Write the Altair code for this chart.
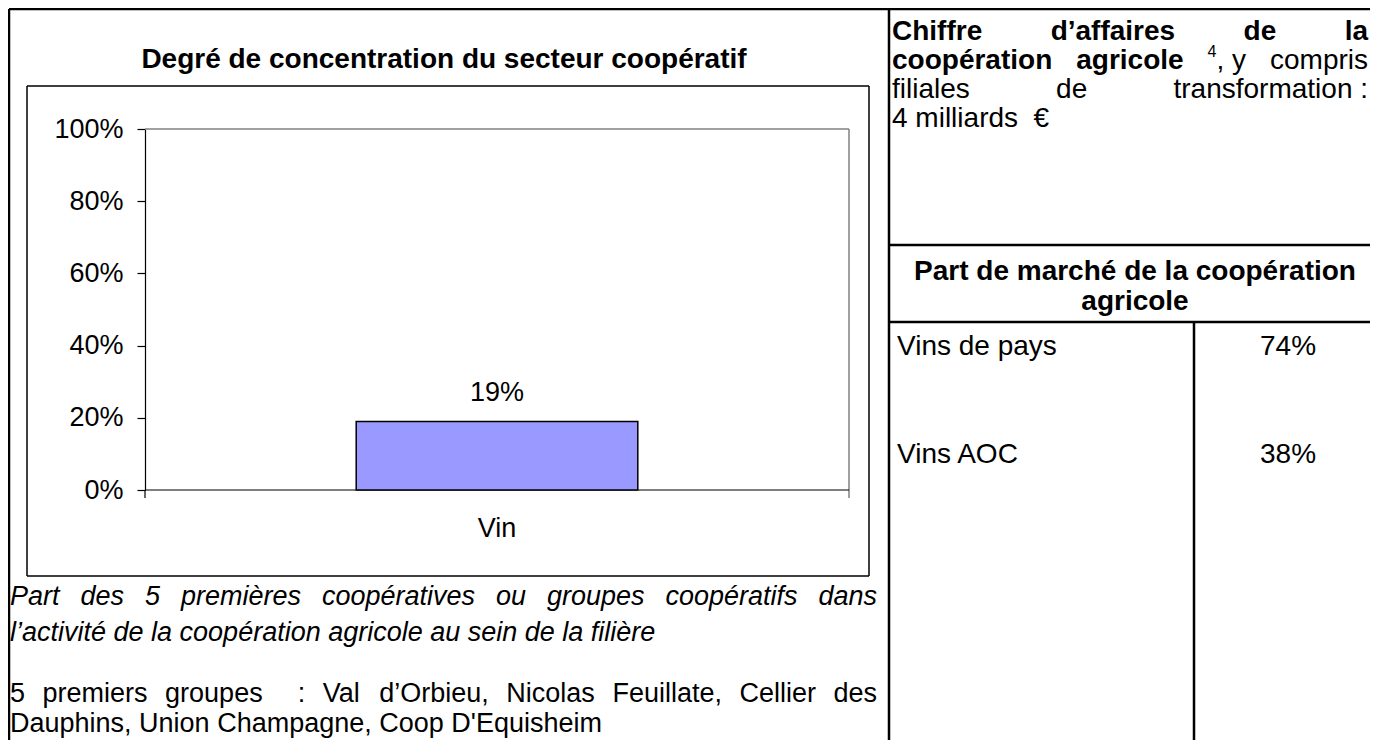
import altair as alt
import pandas as pd

# ---------------- data ----------------
categories = ["Vin"]
shares = [0.19]
y_ticks = [0.0, 0.2, 0.4, 0.6, 0.8, 1.0]
market_labels = ["Vins de pays", "Vins AOC"]
market_values = [0.74, 0.38]

FONT = "Liberation Sans, Arial, Helvetica, sans-serif"
OX, OY = 8, 8  # page margin

def px(x):
    return x - OX

def py(y):
    return y - OY

# Arial / Liberation Sans advance widths (per 1000 em)
W_REG = dict(zip(" ,.:;'’%€0123456789", [278, 278, 278, 278, 278, 191, 222, 889, 556] + [556] * 10))
W_REG.update(dict(zip("abcdefghijklmnopqrstuvwxyz",
                      [556, 556, 500, 556, 556, 278, 556, 556, 222, 222, 500, 222, 833, 556, 556, 556, 556, 333, 500, 278, 556, 500, 722, 500, 500, 500])))
W_REG.update(dict(zip("ABCDEFGHIJKLMNOPQRSTUVWXYZ",
                      [667, 667, 722, 722, 667, 611, 778, 722, 278, 500, 667, 556, 833, 722, 778, 667, 778, 722, 667, 611, 722, 667, 944, 667, 667, 611])))
W_REG.update({"é": 556, "è": 556, "\u00a0": 278})
W_BOLD = dict(zip(" ,.:;'’%€0123456789", [278, 278, 278, 333, 333, 238, 278, 889, 556] + [556] * 10))
W_BOLD.update(dict(zip("abcdefghijklmnopqrstuvwxyz",
                       [556, 611, 556, 611, 556, 333, 611, 611, 278, 278, 556, 278, 889, 611, 611, 611, 611, 389, 556, 333, 611, 556, 778, 556, 556, 500])))
W_BOLD.update(dict(zip("ABCDEFGHIJKLMNOPQRSTUVWXYZ",
                       [722, 722, 722, 722, 667, 611, 778, 722, 278, 556, 722, 611, 833, 722, 778, 667, 778, 722, 667, 611, 722, 667, 944, 667, 667, 611])))
W_BOLD.update({"é": 556, "è": 556, "\u00a0": 278})


def tw(s, size, bold=False):
    t = W_BOLD if bold else W_REG
    return sum(t.get(c, 556) for c in s) * size / 1000.0


def justify(tokens, x0, x1, size):
    """tokens: list of (text, bold, gaps_before). returns list of (text, bold, x)."""
    widths = [tw(t, size, b) for t, b, g in tokens]
    ngaps = sum(g for _, _, g in tokens[1:])
    gap = (x1 - x0 - sum(widths)) / max(ngaps, 1)
    out, x = [], x0
    for i, ((t, b, g), w) in enumerate(zip(tokens, widths)):
        if i > 0:
            x += g * gap
        out.append((t, b, x))
        x += w
    return out


layers = []
one = pd.DataFrame({"k": [0]})


def rule(x1, y1, x2, y2, w=2.5, color="black"):
    layers.append(
        alt.Chart(one).mark_rule(color=color, strokeWidth=w).encode(
            x=alt.value(px(x1)), x2=alt.value(px(x2)), y=alt.value(py(y1)), y2=alt.value(py(y2))
        )
    )


def text(s, x, y, size=28, bold=False, italic=False, align="left"):
    kw = dict(font=FONT, fontSize=size, align=align, baseline="middle", color="black")
    if bold:
        kw["fontWeight"] = "bold"
    if italic:
        kw["fontStyle"] = "italic"
    layers.append(
        alt.Chart(one).mark_text(**kw).encode(x=alt.value(px(x)), y=alt.value(py(y)), text=alt.value(s))
    )


W, H = 1362, 732
RIGHT = OX + W
BOTTOM = OY + H

# ---------------- page table ----------------
rule(9, 9, RIGHT, 9)
rule(9, 9, 9, BOTTOM)
rule(889, 9, 889, BOTTOM)
rule(889, 245, RIGHT, 245)
rule(889, 322, RIGHT, 322)
rule(1194, 322, 1194, BOTTOM)

# chart box
rule(27, 86, 869, 86, 1.5)
rule(27, 576, 869, 576, 1.5)
rule(27, 86, 27, 576, 1.5)
rule(869, 86, 869, 576, 1.5)

# plot frame (grey) and x axis line
rule(145, 129, 849, 129, 1.5, "#808080")
rule(849, 129, 849, 498, 1.5, "#808080")
rule(145, 490, 849, 490, 1.2)
rule(145, 490, 145, 498, 1.2)

# chart title
text("Degré de concentration du secteur coopératif", 444, 60, 28, bold=True, align="center")

# ---------------- bar chart (drawn through scales) ----------------
bar_df = pd.DataFrame({"cat": categories, "value": shares})
xs = alt.Scale(domain=categories, range=[px(145), px(849)], paddingInner=0.6, paddingOuter=0.3)
ys = alt.Scale(domain=[0, 1], range=[py(490), py(129)], nice=False, zero=True)

bars = alt.Chart(bar_df).mark_bar(color="#9999FF", stroke="black", strokeWidth=1.5).encode(
    x=alt.X("cat:N", scale=xs, axis=None),
    y=alt.Y(
        "value:Q",
        scale=ys,
        axis=alt.Axis(
            values=y_ticks, format=".0%", title=None, grid=False, labelFont=FONT, labelFontSize=27,
            labelColor="black", tickColor="black", tickSize=8, tickWidth=1.2, domainColor="black",
            domainWidth=1.2, labelPadding=14, offset=-px(145), labelFlush=False, labelOverlap=False,
        ),
    ),
)
bar_labels = alt.Chart(bar_df).mark_text(font=FONT, fontSize=27, baseline="middle", dy=-28, color="black").encode(
    x=alt.X("cat:N", scale=xs),
    y=alt.Y("value:Q", scale=ys),
    text=alt.Text("value:Q", format=".0%"),
)
cat_labels = alt.Chart(bar_df).mark_text(font=FONT, fontSize=27, baseline="middle", color="black").encode(
    x=alt.X("cat:N", scale=xs),
    y=alt.value(py(529)),
    text="cat:N",
)

# ---------------- captions under the chart ----------------
cap1 = [("Part", 0, 0), ("des", 0, 1), ("5", 0, 1), ("premières", 0, 1), ("coopératives", 0, 1), ("ou", 0, 1),
        ("groupes", 0, 1), ("coopératifs", 0, 1), ("dans", 0, 1)]
for t, b, x in justify(cap1, 10, 877, 27):
    text(t, x, 597, 27, italic=True)
text("l’activité de la coopération agricole au sein de la filière", 10, 633, 27, italic=True)
cap3 = [("5", 0, 0), ("premiers", 0, 1), ("groupes", 0, 1), (":", 0, 2), ("Val", 0, 1), ("d’Orbieu,", 0, 1),
        ("Nicolas", 0, 1), ("Feuillate,", 0, 1), ("Cellier", 0, 1), ("des", 0, 1)]
for t, b, x in justify(cap3, 10, 877, 27):
    text(t, x, 694, 27)
text("Dauphins, Union Champagne, Coop D'Equisheim", 10, 724, 27)

# ---------------- right column ----------------
RS = 28
RX0, RX1 = 892, 1368
l1 = [("Chiffre", 1, 0), ("d’affaires", 1, 1), ("de", 1, 1), ("la", 1, 1)]
for t, b, x in justify(l1, RX0, RX1, RS):
    text(t, x, 32, RS, bold=bool(b))
sup_w = tw("4", 16)
w_tok = [tw("coopération", RS, True), tw("agricole", RS, True), sup_w, tw(", y", RS), tw("compris", RS)]
gap2 = (RX1 - RX0 - sum(w_tok)) / 3
xx = RX0
text("coopération", xx, 61, RS, bold=True); xx += w_tok[0] + gap2
text("agricole", xx, 61, RS, bold=True); xx += w_tok[1] + gap2
text("4", xx, 52, 16); xx += w_tok[2]
text(", y", xx, 61, RS); xx += w_tok[3] + gap2
text("compris", xx, 61, RS)
l3 = [("filiales", 0, 0), ("de", 0, 1), ("transformation\u00a0:", 0, 1)]
for t, b, x in justify(l3, RX0, RX1, RS):
    text(t, x, 90, RS)
text("4 milliards\u00a0 €", RX0, 119, RS)

text("Part de marché de la coopération", 1135, 272, RS, bold=True, align="center")
text("agricole", 1135, 302, RS, bold=True, align="center")

row_y = [347, 455]
for lab, val, yy in zip(market_labels, market_values, row_y):
    text(lab, 897, yy, RS)
    text(f"{round(val * 100)}%", 1288, yy, RS, align="center")

chart = (
    alt.layer(*layers, bars, bar_labels, cat_labels)
    .properties(width=W, height=H, padding=0, autosize="none", background="white")
    .configure_view(stroke=None)
)

chart.save("out.html", embed_options={"renderer": "svg", "actions": False})
